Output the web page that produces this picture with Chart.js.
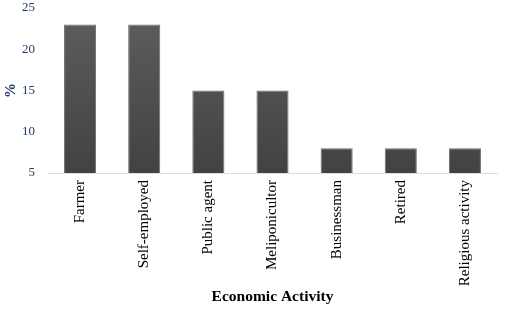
<!DOCTYPE html>
<html>
<head>
<meta charset="utf-8">
<script src="https://cdn.jsdelivr.net/npm/chart.js@4"></script>
<style>
  html, body { margin: 0; padding: 0; background: #fff; }
  #wrap { width: 508px; height: 328px; }
</style>
</head>
<body>
<div id="wrap"><canvas id="myChart"></canvas></div>
<script>
// Share of respondents by economic activity
const activities = ['Farmer', 'Self-employed', 'Public agent', 'Meliponicultor', 'Businessman', 'Retired', 'Religious activity'];
const percents = [23, 23, 15, 15, 8, 8, 8];
const yTicks = [5, 10, 15, 20, 25];

const navy = '#1f3a68';
const serif = "'Liberation Serif', 'Times New Roman', serif";

// Dark vertical gradient for the bars
const barFill = (context) => {
  const area = context.chart.chartArea;
  if (!area) return '#505050';
  const g = context.chart.ctx.createLinearGradient(0, area.top, 0, area.bottom);
  g.addColorStop(0, '#5e5e5e');
  g.addColorStop(1, '#424242');
  return g;
};

const ctx = document.getElementById('myChart').getContext('2d');
new Chart(ctx, {
  type: 'bar',
  data: {
    labels: activities,
    datasets: [{
      label: '%',
      data: percents,
      backgroundColor: barFill,
      borderColor: '#6c6c6c',
      borderWidth: 1,
      barPercentage: 0.5,
      categoryPercentage: 1
    }]
  },
  options: {
    responsive: true,
    maintainAspectRatio: false,
    animation: false,
    layout: { padding: { left: 0, right: 11, top: 8, bottom: 0 } },
    plugins: {
      legend: { display: false },
      tooltip: { enabled: false }
    },
    scales: {
      x: {
        grid: { display: false, drawTicks: false },
        border: { display: true, color: '#d8dfea', width: 1 },
        afterFit: (axis) => { axis.height = 155; },
        ticks: {
          color: '#000',
          font: { family: serif, size: 15 },
          minRotation: 90,
          maxRotation: 90,
          padding: 7
        },
        title: {
          display: true,
          text: 'Economic Activity',
          color: '#000',
          font: { family: serif, size: 15.5, weight: 'bold' },
          padding: { top: 2, bottom: 22 }
        }
      },
      y: {
        min: yTicks[0],
        max: yTicks[yTicks.length - 1],
        grid: { display: false, drawTicks: false },
        border: { display: false },
        afterBuildTicks: (axis) => { axis.ticks = yTicks.map(v => ({ value: v })); },
        afterFit: (axis) => {
          axis.width = 48;
          axis.paddingTop = 0;
          axis.paddingBottom = 0;
        },
        ticks: {
          color: navy,
          font: { family: serif, size: 13 },
          padding: 13
        },
        title: {
          display: true,
          text: '%',
          color: navy,
          font: { family: serif, size: 15, weight: 'bold' },
          padding: { top: 2, bottom: 4 }
        }
      }
    }
  }
});
</script>
</body>
</html>
